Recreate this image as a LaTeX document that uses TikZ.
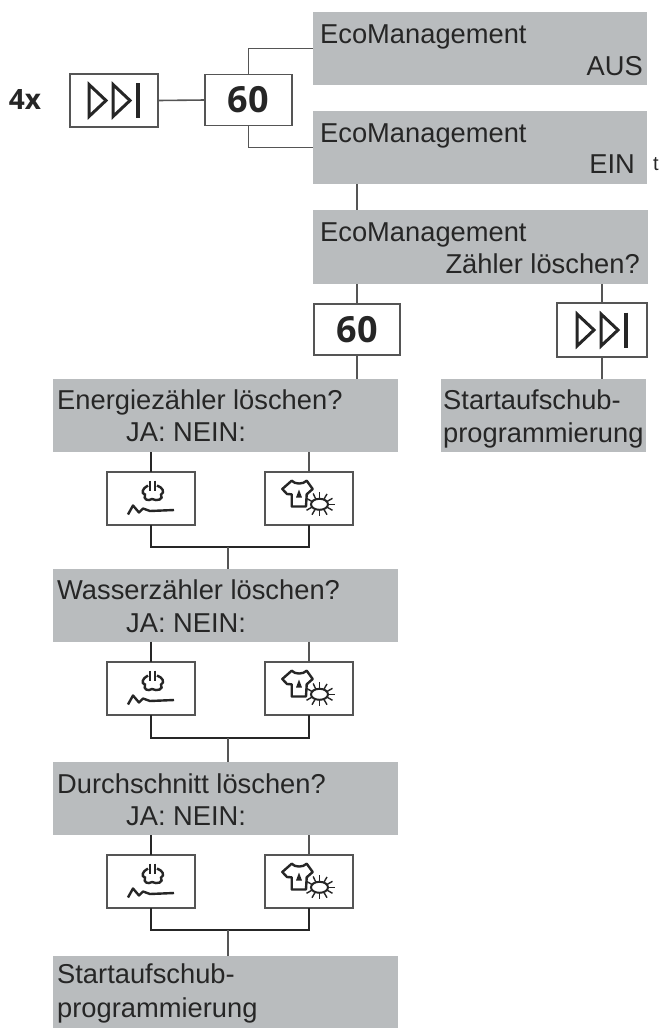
\documentclass[tikz,border=0pt]{standalone}
\usepackage{fontspec}
\setmainfont{Liberation Sans}
\newfontfamily\keyfont{Open Sans}
\definecolor{panelgrey}{HTML}{B9BCBE}
\definecolor{wiregrey}{HTML}{555555}
\definecolor{inkgrey}{HTML}{262626}
\tikzset{
  greybox/.style = {fill = panelgrey, inner sep = 0, outer sep = 0},
  keybox/.style = {draw = wiregrey, fill = white, line width = 1.6, inner sep = 0, outer sep = 0, minimum width = 88, minimum height = 53},
  wire/.style = {draw = wiregrey, line width = 1.6},
  darkwire/.style = {draw = inkgrey, line width = 2},
  txt/.style = {anchor = base west, inner sep = 0, text = inkgrey, font = \fontsize{27.3}{30}\selectfont},
  txtr/.style = {txt, anchor = base east},
  keytxt/.style = {text = inkgrey, font = \keyfont\bfseries\fontsize{36}{38}\selectfont},
  skipsym/.pic = {
    \draw[draw = inkgrey, line width = 3, line join = miter] (-25,-16) -- (-8,0) -- (-25,16) -- cycle;
    \draw[draw = inkgrey, line width = 3, line join = miter] (-1,-16) -- (16,0) -- (-1,16) -- cycle;
    \draw[draw = inkgrey, line width = 4.2] (24,-17.5) -- (24,17.5);
  },
  plugsym/.pic = {
    \draw[draw = inkgrey, line width = 2.2] (-1,-18) -- (-1,-8) (4,-18) -- (4,-8);
    \draw[draw = inkgrey, line width = 2.4] (-3,-13) .. controls (-9,-10) and (-10,-5) .. (-6,-4) .. controls (-8,1) and (-3,3) .. (1,0.5) .. controls (6,3) and (13,1) .. (10,-4) .. controls (14,-6) and (12,-11) .. (6,-13);
    \draw[draw = inkgrey, line width = 2.4, line join = round] (-23,16) -- (-18,7) -- (-12,14) -- (-8,10) -- (-1,12.5) -- (23,11.5);
  },
  shirtsym/.pic = {
    \draw[draw = inkgrey, line width = 2.4, line join = round] (-26.7,-9.5) -- (-17.3,-17.8) .. controls (-14,-14) and (-6,-14) .. (-2.3,-17.8) -- (3.7,-9.5) -- (-2.3,-4.2) -- (-3,8) -- (-17.3,8) -- (-17.3,-4.2) -- (-22,-4.5) -- cycle;
    \fill[inkgrey] (-10,-9) -- (-7,-1) -- (-13,-1) -- cycle;
    \foreach \a in {-150,-115,-90,-60,-30,0,30,60,90,120,150} \draw[draw = inkgrey, line width = 1.4] (10.5,5.8) ++(\a:9 and 6) -- ++(\a:6);
    \draw[draw = inkgrey, fill = white, line width = 2] (10.5,5.8) ellipse (8.5 and 5.5);
  }
}
\begin{document}
\begin{tikzpicture}[x = 1pt, y = -1pt]
\useasboundingbox (0,0) rectangle (659,1029);
\node[keytxt, font = \keyfont\bfseries\fontsize{28}{30}\selectfont] (times) at (25,100) {4x};
\node[keybox] (skipa) at (114,100.5) {};
\pic at (skipa) {skipsym};
\node[keybox, minimum width = 87, minimum height = 51] (sixtya) at (248.5,100) {};
\node[keytxt] (sixtyalabel) at (248,100) {60};
\node[greybox, minimum width = 334, minimum height = 73] (ecoaus) at (480,48.5) {};
\node[greybox, minimum width = 334, minimum height = 73] (ecoein) at (480,147.5) {};
\node[greybox, minimum width = 335, minimum height = 74] (ecozaehler) at (480.5,247) {};
\node[txt] (ausa) at (320,43) {EcoManagement};
\node[txtr] (ausb) at (643,75) {AUS};
\node[txt] (eina) at (320,142) {EcoManagement};
\node[txtr] (einb) at (635,173) {EIN};
\node[anchor = base west, inner sep = 0, text = inkgrey, font = \fontsize{20}{22}\selectfont] (einmark) at (653,170) {t};
\node[txt] (zaehlera) at (320,241) {EcoManagement};
\node[txtr] (zaehlerb) at (640,273) {Zähler löschen?};
\node[keybox, minimum width = 86, minimum height = 51] (sixtyb) at (357,329.5) {};
\node[keytxt] (sixtyblabel) at (357,329.5) {60};
\node[keybox, minimum width = 90, minimum height = 54] (skipb) at (602,330) {};
\pic at (skipb) {skipsym};
\node[greybox, minimum width = 205, minimum height = 73] (startr) at (543.5,415.5) {};
\node[txt] (startra) at (443,409) {Startaufschub-};
\node[txt] (startrb) at (443,442) {programmierung};
\foreach \nam/\ques/\ygrey/\yques/\yja/\ybox/\yjoin in {energie/Energiezähler/415.5/409/441/498.5/547, wasser/Wasserzähler/605/599/632/688.5/738, durch/Durchschnitt/798.5/793/825/881.5/930} {
  \node[greybox, minimum width = 345, minimum height = 73] (grey\nam) at (225.5,\ygrey) {};
  \node[txt] (ques\nam) at (57,\yques) {\ques{} löschen?};
  \node[txt] (ja\nam) at (126,\yja) {JA: NEIN:};
  \node[keybox] (plug\nam) at (151,\ybox) {};
  \node[keybox] (shirt\nam) at (309,\ybox) {};
  \pic at (plug\nam) {plugsym};
  \pic at (shirt\nam) {shirtsym};
  \coordinate (join\nam) at (228,\yjoin);
  \draw[darkwire] (grey\nam.south -| plug\nam) -- (plug\nam.north);
  \draw[wire] (grey\nam.south -| shirt\nam) -- (shirt\nam.north);
  \draw[darkwire] (plug\nam.south) -- (plug\nam.south |- join\nam) -- (shirt\nam.south |- join\nam) -- (shirt\nam.south);
}
\node[greybox, minimum width = 345, minimum height = 72] (greystart) at (225.5,992) {};
\node[txt] (startla) at (57,983) {Startaufschub-};
\node[txt] (startlb) at (57,1017) {programmierung};
\foreach \a/\b in {energie/wasser, wasser/durch, durch/start} \draw[wire] (join\a) -- (grey\b.north -| join\a);
\draw[wire] (skipa.east) -- (sixtya.west);
\draw[wire] (sixtya.north) -- (sixtya.north |- ecoaus.west) -- (ecoaus.west);
\draw[wire] (sixtya.south) -- (sixtya.south |- ecoein.west) -- (ecoein.west);
\draw[wire] (ecoein.south -| sixtyb) -- (ecozaehler.north -| sixtyb);
\draw[wire] (ecozaehler.south -| sixtyb) -- (sixtyb.north);
\draw[wire] (sixtyb.south) -- (greyenergie.north -| sixtyb);
\draw[wire] (ecozaehler.south -| skipb) -- (skipb.north);
\draw[wire] (skipb.south) -- (startr.north -| skipb);
\end{tikzpicture}
\end{document}
